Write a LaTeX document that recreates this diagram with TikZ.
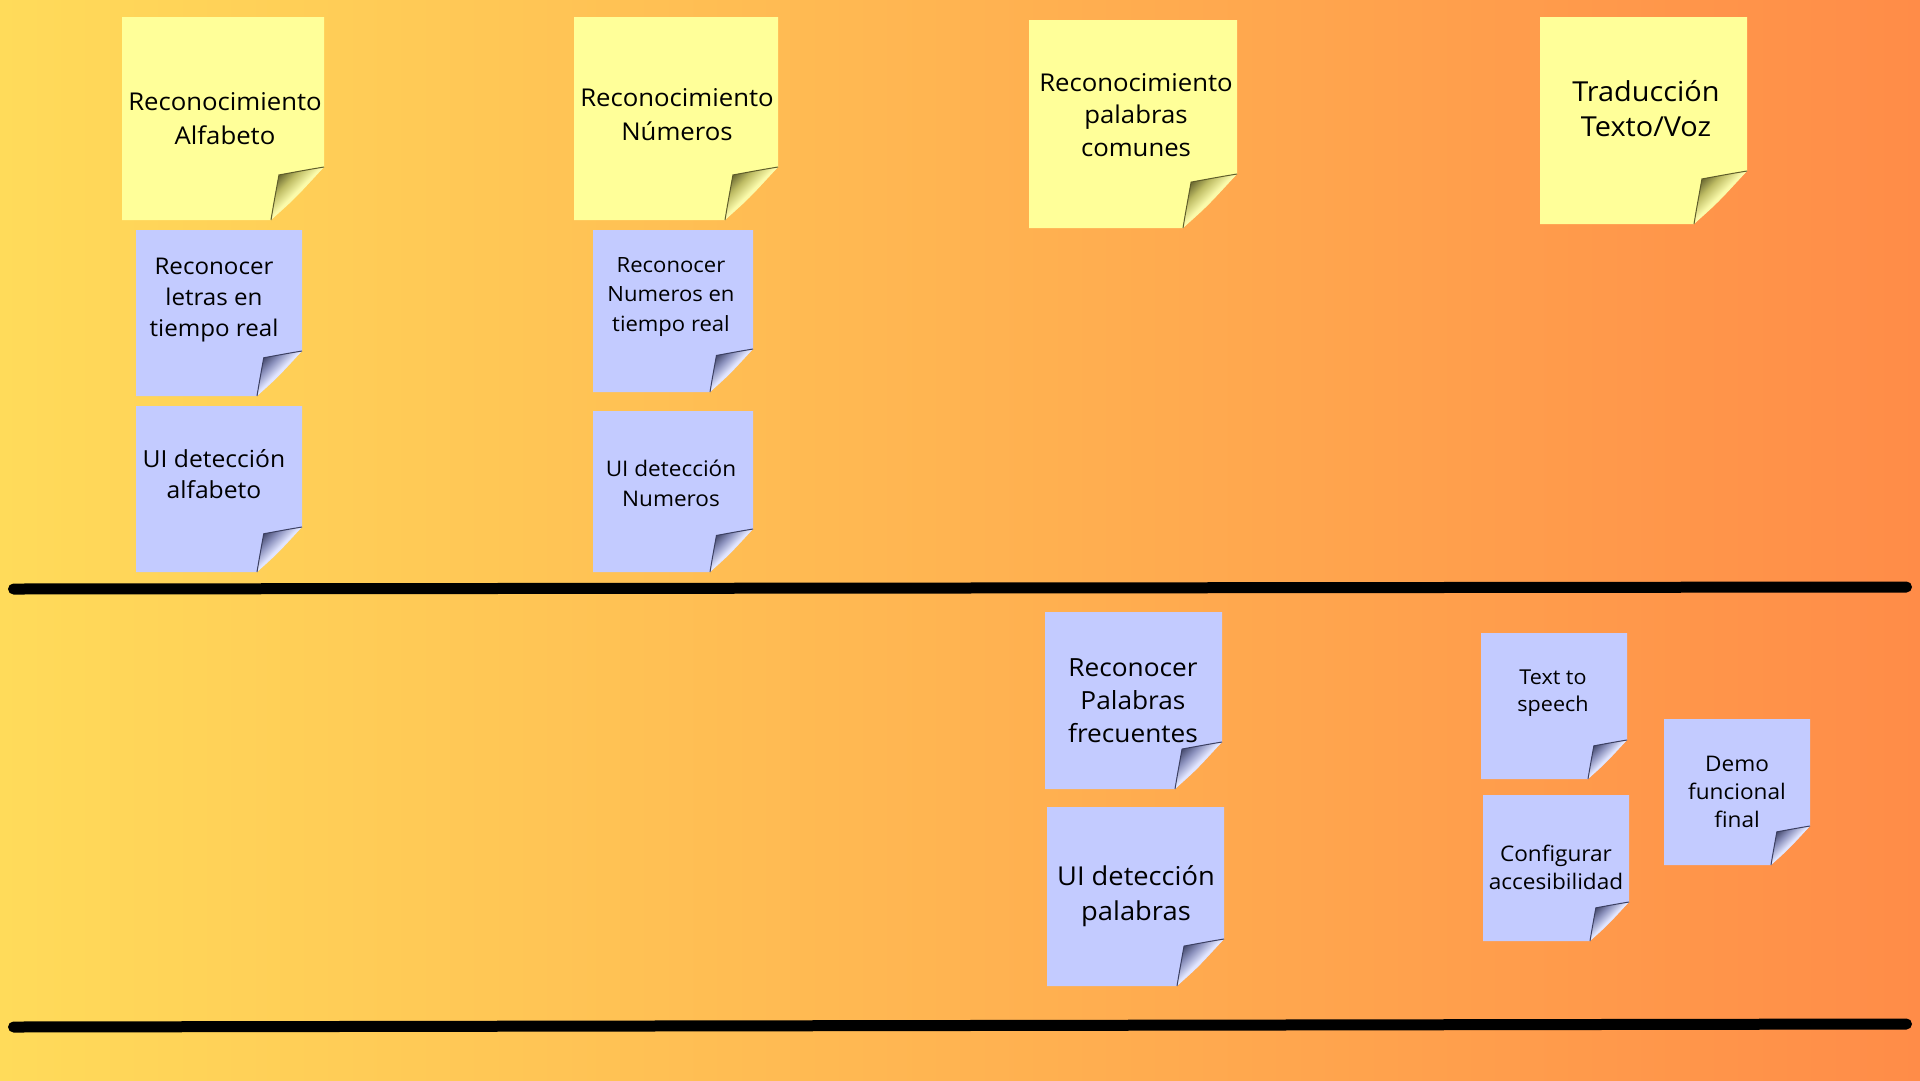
\documentclass[tikz,border=0pt]{standalone}
\usepackage{fontspec}
\setmainfont[FakeStretch=1.05]{Open Sans}
\definecolor{bgleft}{RGB}{255,219,90}
\definecolor{bgright}{RGB}{255,140,72}
\definecolor{ynote}{RGB}{255,255,153}
\definecolor{ydark}{RGB}{95,93,42}
\definecolor{ymid}{RGB}{190,188,100}
\definecolor{ylight}{RGB}{250,250,170}
\definecolor{bnote}{RGB}{195,203,255}
\definecolor{bdark}{RGB}{60,64,98}
\definecolor{bmid}{RGB}{140,146,190}
\definecolor{blight}{RGB}{225,229,255}
\pgfdeclareverticalshading{yflap}{100bp}{color(0bp)=(ylight); color(52bp)=(ylight); color(64bp)=(ymid); color(76bp)=(ydark); color(100bp)=(ydark)}
\pgfdeclareverticalshading{bflap}{100bp}{color(0bp)=(blight); color(52bp)=(blight); color(64bp)=(bmid); color(76bp)=(bdark); color(100bp)=(bdark)}
\newcommand\stickynote[8]{%
  \fill[#6] (#1,#2) -- (#3,#2) -- (#3,#4-#5) -- (#3-#5,#4) -- (#1,#4) -- cycle;
  \shade[shading=#8, shading angle=45]
    (#3,#4-#5) .. controls (#3-0.3*#5,#4-0.95*#5) .. (#3-0.85*#5,#4-0.85*#5)
    .. controls (#3-0.95*#5,#4-0.3*#5) .. (#3-#5,#4)
    .. controls (#3-0.55*#5,#4-0.4*#5) .. (#3,#4-#5) -- cycle;
  \draw[#7, line width=1pt]
    (#3,#4-#5) .. controls (#3-0.3*#5,#4-0.95*#5) .. (#3-0.85*#5,#4-0.85*#5)
    .. controls (#3-0.95*#5,#4-0.3*#5) .. (#3-#5,#4);
}
\tikzset{
  notetext/.style={align=center, text=black, inner sep=0pt},
  divider/.style={line width=11pt, line cap=round, black}
}
\begin{document}
\begin{tikzpicture}[x=1pt, y=-1pt]
\useasboundingbox (0,0) rectangle (1920,1080);
\shade[left color=bgleft, right color=bgright] (0,0) rectangle (1920,1080);

% yellow headers
\stickynote{122}{17}{324}{220}{53}{ynote}{ydark}{yflap}
\node[notetext, font=\fontsize{24.5}{34}\selectfont] (alfa) at (225,119) {Reconocimiento\\Alfabeto};
\stickynote{574}{17}{778}{220}{53}{ynote}{ydark}{yflap}
\node[notetext, font=\fontsize{24.5}{34}\selectfont] (nums) at (677,115) {Reconocimiento\\Números};
\stickynote{1029}{20}{1237}{228}{54}{ynote}{ydark}{yflap}
\node[notetext, font=\fontsize{24.5}{32.5}\selectfont] (pals) at (1136,115) {Reconocimiento\\palabras\\comunes};
\stickynote{1540}{17}{1747}{224}{53}{ynote}{ydark}{yflap}
\node[notetext, font=\fontsize{27.5}{35}\selectfont] (trad) at (1646,109) {Traducción\\Texto/Voz};

% blue tasks
\stickynote{136}{230}{302}{396}{45}{bnote}{bdark}{bflap}
\node[notetext, font=\fontsize{23}{31}\selectfont] (letras) at (214,300) {Reconocer\\letras en\\tiempo real};
\stickynote{136}{406}{302}{572}{45}{bnote}{bdark}{bflap}
\node[notetext, font=\fontsize{23.5}{31}\selectfont] (uialfa) at (214,474) {UI detección\\alfabeto};
\stickynote{593}{230}{753}{392}{43}{bnote}{bdark}{bflap}
\node[notetext, font=\fontsize{21}{29.5}\selectfont] (numrt) at (671,297) {Reconocer\\Numeros en\\tiempo real};
\stickynote{593}{411}{753}{572}{43}{bnote}{bdark}{bflap}
\node[notetext, font=\fontsize{21.5}{30}\selectfont] (uinum) at (671,483) {UI detección\\Numeros};
\stickynote{1045}{612}{1222}{789}{47}{bnote}{bdark}{bflap}
\node[notetext, font=\fontsize{25}{33}\selectfont] (palfre) at (1133,701) {Reconocer\\Palabras\\frecuentes};
\stickynote{1047}{807}{1224}{986}{47}{bnote}{bdark}{bflap}
\node[notetext, font=\fontsize{26}{34.5}\selectfont] (uipal) at (1136,896) {UI detección\\palabras};
\stickynote{1481}{633}{1627}{779}{39}{bnote}{bdark}{bflap}
\node[notetext, font=\fontsize{20.5}{27}\selectfont] (tts) at (1553,693) {Text to\\speech};
\stickynote{1483}{795}{1629}{941}{39}{bnote}{bdark}{bflap}
\node[notetext, font=\fontsize{21.5}{28}\selectfont] (acc) at (1556,867) {Configurar\\accesibilidad};
\stickynote{1664}{719}{1810}{865}{39}{bnote}{bdark}{bflap}
\node[notetext, font=\fontsize{21.5}{28}\selectfont] (demo) at (1737,792) {Demo\\funcional\\final};

% dividers
\coordinate (d1a) at (13.5,589);
\coordinate (d1b) at (1906.5,587);
\coordinate (d2a) at (13.5,1027);
\coordinate (d2b) at (1906.5,1024);
\draw[divider] (d1a) -- (d1b);
\draw[divider] (d2a) -- (d2b);
\end{tikzpicture}
\end{document}
